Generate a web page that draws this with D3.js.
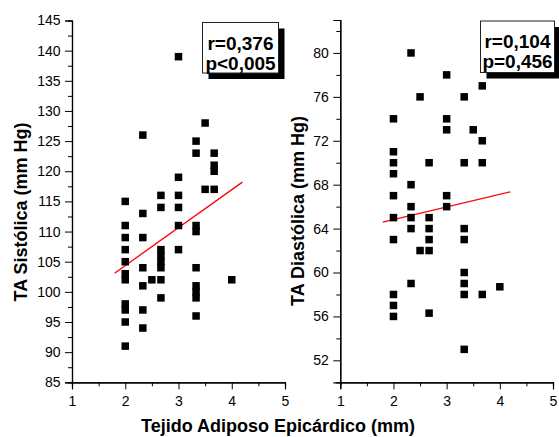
<!DOCTYPE html>
<html>
<head>
<meta charset="utf-8">
<script src="https://cdn.jsdelivr.net/npm/d3@7"></script>
<style>
	body { margin: 0; background: #fff; }
	text { font-family: Arial, 'Liberation Sans', sans-serif; fill: #000; }
</style>
</head>
<body>
<div id="app"></div>
<script>
// data
const sysX = [2, 2, 2, 2, 2, 2, 2, 2, 2, 2, 2,
	2.33, 2.33, 2.33, 2.33, 2.33, 2.33, 2.33,
	2.5,
	2.67, 2.67, 2.67, 2.67, 2.67, 2.67, 2.67, 2.67,
	3, 3, 3, 3, 3, 3,
	3.33, 3.33, 3.33, 3.33, 3.33, 3.33, 3.33, 3.33, 3.33,
	3.5, 3.5,
	3.67, 3.67, 3.67, 3.67,
	4];
const sysY = [115, 111, 109, 107, 105, 103, 102, 98, 97, 95, 91,
	126, 113, 109, 104, 101, 97, 94,
	102,
	116, 114, 107, 106, 105, 104, 102, 99,
	139, 119, 116, 114, 111, 107,
	125, 123, 111, 110, 104, 101, 100, 99, 96,
	128, 117,
	123, 121, 120, 117,
	102];

const diaX = [2, 2, 2, 2, 2, 2, 2, 2, 2, 2,
	2.33, 2.33, 2.33, 2.33, 2.33, 2.33,
	2.5, 2.5,
	2.67, 2.67, 2.67, 2.67, 2.67, 2.67,
	3, 3, 3, 3, 3,
	3.33, 3.33, 3.33, 3.33, 3.33, 3.33, 3.33, 3.33,
	3.5,
	3.67, 3.67, 3.67, 3.67,
	4];
const diaY = [74, 71, 70, 69, 67, 65, 63, 58, 57, 56,
	80, 68, 66, 65, 64, 59,
	76, 62,
	70, 65, 64, 63, 62, 56.3,
	78, 74, 73, 67, 66,
	76, 70, 64, 63, 60, 59, 58, 53,
	73,
	77, 72, 70, 58,
	58.7];

// fitted lines (end points)
const fitX = [1.8, 4.2];
const sysFit = [103.1, 118.2];
const diaFit = [64.6, 67.35];

const xTicks = [1, 2, 3, 4, 5];
const sysTicks = [85, 90, 95, 100, 105, 110, 115, 120, 125, 130, 135, 140, 145];
const diaTicks = [52, 56, 60, 64, 68, 72, 76, 80];

const width = 559;
const height = 437;

const svg = d3.select('#app').append('svg').attr('width', width).attr('height', height);

function panel(opts) {
	const x = d3.scaleLinear().domain([1, 5]).range([opts.x0, opts.x1]);
	const y = d3.scaleLinear().domain(opts.yDomain).range([382.3, opts.yTop]);
	const g = svg.append('g');

	// x axis, major + minor ticks
	const xAxis = g.append('g').attr('transform', `translate(0,${y.range()[0]})`);
	xAxis.call(d3.axisBottom(x).tickValues(d3.range(1.5, 5, 1)).tickSize(4).tickFormat(''));
	xAxis.append('g').call(d3.axisBottom(x).tickValues(xTicks).tickSize(7).tickFormat(d3.format('d')));
	xAxis.selectAll('text').attr('font-size', 14).attr('dy', '0.95em');

	// y axis
	const yAxis = g.append('g').attr('transform', `translate(${opts.x0},0)`);
	yAxis.call(d3.axisLeft(y).tickValues(opts.minor).tickSize(4).tickFormat(''));
	yAxis.append('g').call(d3.axisLeft(y).tickValues(opts.ticks).tickSize(7).tickFormat(d3.format('d')));
	yAxis.selectAll('text').attr('font-size', 14).attr('dx', '-0.1em');

	g.selectAll('.domain').attr('stroke', '#000').attr('stroke-width', 1.2);
	g.selectAll('.tick line').attr('stroke', '#000');

	// regression
	g.append('line')
		.attr('x1', x(fitX[0])).attr('y1', y(opts.fit[0]))
		.attr('x2', x(fitX[1])).attr('y2', y(opts.fit[1]))
		.attr('stroke', '#ff0000').attr('stroke-width', 1.3);

	// points
	const s = 7.5;
	g.selectAll('rect.pt')
		.data(opts.xs.map((d, i) => [d, opts.ys[i]]))
		.join('rect')
		.attr('class', 'pt')
		.attr('x', (d) => x(d[0]) - s / 2)
		.attr('y', (d) => y(d[1]) - s / 2)
		.attr('width', s)
		.attr('height', s)
		.attr('fill', '#000');

	// y title
	g.append('text')
		.attr('transform', `translate(${opts.titleX},${opts.titleY}) rotate(-90)`)
		.attr('text-anchor', 'middle')
		.attr('font-size', 18)
		.attr('font-weight', 'bold')
		.text(opts.title);

	// stats box with shadow
	const b = opts.box;
	g.append('rect').attr('x', b[0] + 6).attr('y', b[1] + 6).attr('width', b[2]).attr('height', b[3]).attr('fill', '#000');
	g.append('rect').attr('x', b[0]).attr('y', b[1]).attr('width', b[2]).attr('height', b[3])
		.attr('fill', '#fff').attr('stroke', '#222').attr('stroke-width', 1);
	opts.stats.forEach((t, i) => {
		g.append('text')
			.attr('x', b[0] + b[2] / 2)
			.attr('y', b[1] + 27 + i * 20)
			.attr('text-anchor', 'middle')
			.attr('font-size', 19)
			.attr('font-weight', 'bold')
			.text(t);
	});
}

panel({
	x0: 72, x1: 285, yDomain: [85, 145], yTop: 20.5,
	ticks: sysTicks, minor: d3.range(87.5, 145, 5),
	xs: sysX, ys: sysY, fit: sysFit,
	title: 'TA Sistólica (mm Hg)', titleX: 27, titleY: 212,
	box: [202.5, 22.5, 76, 50.5], stats: ['r=0,376', 'p<0,005']
});

panel({
	x0: 340.3, x1: 553, yDomain: [50, 83], yTop: 20,
	ticks: diaTicks, minor: d3.range(54, 83, 4),
	xs: diaX, ys: diaY, fit: diaFit,
	title: 'TA Diastólica (mm Hg)', titleX: 304, titleY: 211,
	box: [480.5, 21, 74, 51.5], stats: ['r=0,104', 'p=0,456']
});

svg.append('text')
	.attr('x', 278).attr('y', 432)
	.attr('text-anchor', 'middle')
	.attr('font-size', 18)
	.attr('font-weight', 'bold')
	.text('Tejido Adiposo Epicárdico (mm)');
</script>
</body>
</html>
